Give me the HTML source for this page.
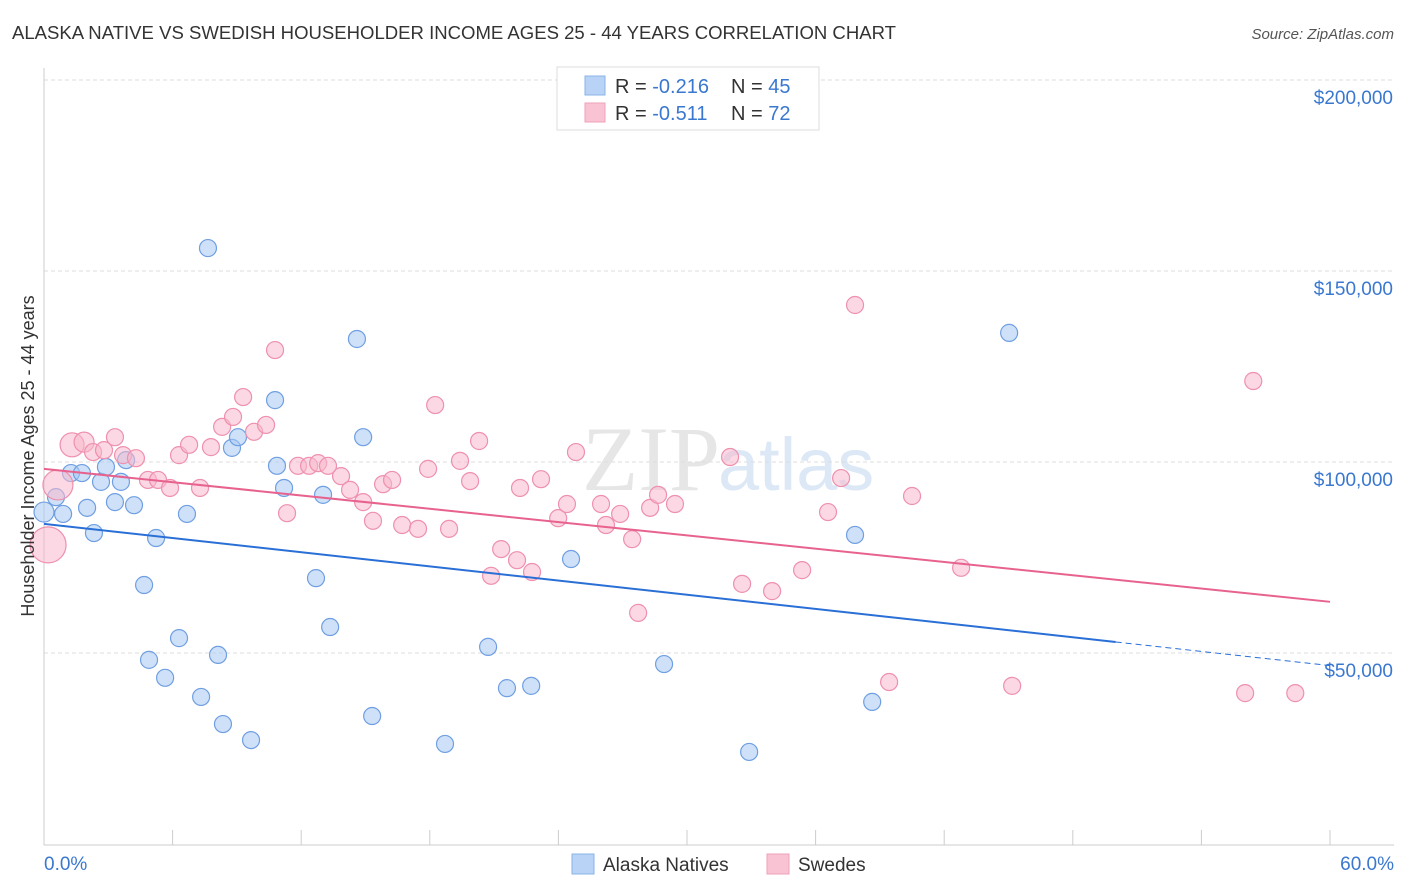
<!DOCTYPE html>
<html><head><meta charset="utf-8"><style>
body{margin:0;background:#fff;font-family:"Liberation Sans",sans-serif}
svg{display:block}
</style></head><body>
<svg id="c" width="1406" height="892" xmlns="http://www.w3.org/2000/svg">
<text x="12" y="39" font-size="18" fill="#333" textLength="884" lengthAdjust="spacingAndGlyphs">ALASKA NATIVE VS SWEDISH HOUSEHOLDER INCOME AGES 25 - 44 YEARS CORRELATION CHART</text>
<text x="1394" y="39" font-size="15" fill="#555" font-style="italic" text-anchor="end">Source: ZipAtlas.com</text>
<text x="720" y="490" font-size="92" fill="#e6e6e6" text-anchor="end" font-family="Liberation Serif">ZIP</text>
<text x="718" y="490" font-size="74" fill="#dce8f6">atlas</text>
<g id="grid"></g><g id="axes"></g><g id="pts"></g><g id="lines"></g>
<g>
<rect x="557" y="67" width="262" height="63" fill="#fff" stroke="#ddd"/>
<rect x="585" y="76" width="20" height="19" fill="#b8d3f5" stroke="#8ab3e8"/>
<rect x="585" y="103" width="20" height="19" fill="#f9c3d3" stroke="#f0a0b8"/>
<text x="615" y="93" font-size="20" fill="#333">R = <tspan fill="#3a78d0">-0.216</tspan><tspan x="731">N = </tspan><tspan fill="#3a78d0">45</tspan></text>
<text x="615" y="120" font-size="20" fill="#333">R = <tspan fill="#3a78d0"> -0.511</tspan><tspan x="731">N = </tspan><tspan fill="#3a78d0">72</tspan></text>
</g>
<g>
<rect x="572" y="854" width="22" height="20" fill="#b8d3f5" stroke="#8ab3e8"/>
<text x="603" y="871" font-size="19" fill="#333">Alaska Natives</text>
<rect x="767" y="854" width="22" height="20" fill="#f9c3d3" stroke="#f0a0b8"/>
<text x="798" y="871" font-size="19" fill="#333">Swedes</text>
</g>
<text transform="translate(34,456) rotate(-90)" font-size="18" fill="#333" text-anchor="middle">Householder Income Ages 25 - 44 years</text>
</svg>
<script>
const yTicks=[50000,100000,150000,200000];
const yTickLabels=["$50,000","$100,000","$150,000","$200,000"];
const xTicks=[0,6,12,18,24,30,36,42,48,54,60];
const blueX=[0.0,0.56,0.89,1.26,1.77,2.01,2.33,2.66,2.89,3.31,3.59,3.83,4.2,4.67,4.9,5.23,5.65,6.3,6.67,7.33,7.65,8.12,8.35,8.77,9.05,9.66,10.78,10.87,11.2,12.69,13.02,13.35,14.6,14.89,15.31,18.71,20.72,21.6,22.73,24.59,28.93,32.9,37.84,38.64,45.03];
const blueY=[86900,90800,86400,97100,97100,88000,81400,94800,98700,89500,94800,100500,88700,67800,48200,80100,43500,53900,86400,38500,156000,49500,31400,103700,106500,27200,116200,99000,93200,69600,91400,56800,132200,106500,33500,26200,51600,40800,41400,74600,47100,24100,80900,37200,133800];
const pinkX=[0.19,0.65,1.31,1.87,2.29,2.8,3.31,3.69,4.29,4.85,5.32,5.88,6.3,6.77,7.28,7.79,8.31,8.82,9.29,9.8,10.36,10.78,11.34,11.85,12.37,12.79,13.25,13.86,14.28,14.89,15.35,15.82,16.24,16.71,17.45,17.92,18.25,18.9,19.41,19.88,20.3,20.86,21.33,22.07,22.21,22.77,23.19,23.99,24.4,24.82,25.99,26.22,26.88,27.44,27.72,28.28,28.65,29.44,32.01,32.57,33.97,35.37,36.58,37.19,37.84,39.43,40.5,42.79,45.17,56.04,56.42,58.38];
const pinkY=[78300,94000,104500,105200,102600,103100,106500,101800,101000,95300,95300,93200,101800,104500,93200,103900,109200,111800,117000,107900,109700,129300,86600,99000,99000,99700,99000,96300,92700,89500,84600,94200,95300,83500,82500,98200,114900,82500,100300,95000,105500,70200,77200,74300,93200,71200,95500,85300,89000,102600,89000,83500,86400,79800,60500,88000,91400,89000,101300,68100,66200,71700,86900,95800,141100,42400,91100,72300,41400,39500,121200,39500];
const pinkSize=[18,15,12,10];
const blueTrend=[83800,46700];
const pinkTrend=[98200,63400];
const NS="http://www.w3.org/2000/svg";
const X=p=>44+p*(1330-44)/60;
const Y=v=>462-(v-100000)*191/50000;
function mk(t,a,parent){const e=document.createElementNS(NS,t);for(const k in a)e.setAttribute(k,a[k]);document.getElementById(parent).appendChild(e);return e;}
yTicks.forEach((v,i)=>{
 const l=mk('line',{x1:44,x2:1394,y1:Y(v),y2:Y(v),stroke:'#ddd','stroke-dasharray':'4,3'},'grid');
 
 
 const t=mk('text',{x:1393,y:Y(v)+24,'font-size':19,fill:'#3a78d0','text-anchor':'end'},'axes');
 t.textContent=yTickLabels[i];
 
 
});
const ax=mk('line',{x1:44,x2:44,y1:68,y2:845,stroke:'#ccc'},'axes');


const bx=mk('line',{x1:44,x2:1394,y1:845,y2:845,stroke:'#ccc'},'axes');


xTicks.forEach(p=>{
 const l=mk('line',{x1:X(p),x2:X(p),y1:830,y2:845,stroke:'#ccc'},'axes');
 
 
});
const x0=mk('text',{x:44,y:870,'font-size':19,fill:'#3a78d0'},'axes');x0.textContent='0.0%';


const x1=mk('text',{x:1394,y:870,'font-size':19,fill:'#3a78d0','text-anchor':'end'},'axes');x1.textContent='60.0%';


blueX.forEach((p,i)=>{
 const c=mk('circle',{cx:X(p),cy:Y(blueY[i]),r:i===0?10:8.5,fill:'rgba(168,200,242,0.55)',stroke:'#6f9fe2','stroke-width':1.2},'pts');
 
 
});
pinkX.forEach((p,i)=>{
 const c=mk('circle',{cx:X(p),cy:Y(pinkY[i]),r:pinkSize[i]||8.5,fill:'rgba(248,184,204,0.55)',stroke:'#ee90ae','stroke-width':1.2},'pts');
 
 
});
const bAt=p=>blueTrend[0]+(blueTrend[1]-blueTrend[0])*p/60;
const l1=mk('line',{x1:X(0),y1:Y(bAt(0)),x2:X(50),y2:Y(bAt(50)),stroke:'#2a6fd6','stroke-width':2},'lines');


const l2=mk('line',{x1:X(50),y1:Y(bAt(50)),x2:X(60),y2:Y(bAt(60)),stroke:'#2a6fd6','stroke-width':1,'stroke-dasharray':'6,4'},'lines');


const l3=mk('line',{x1:X(0),y1:Y(pinkTrend[0]),x2:X(60),y2:Y(pinkTrend[1]),stroke:'#e8628e','stroke-width':2},'lines');


</script>
</body></html>
